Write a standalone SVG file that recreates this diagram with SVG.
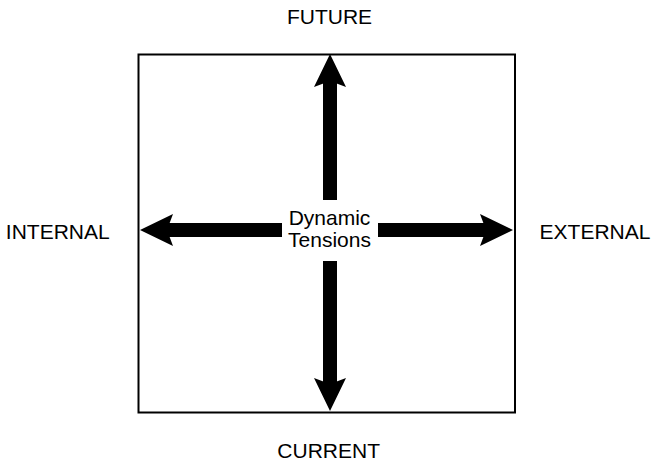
<svg xmlns="http://www.w3.org/2000/svg" width="653" height="462" viewBox="0 0 653 462">
  <style>
    .lbl { font-family: "Liberation Sans", Arial, sans-serif; font-size: 21px; fill: #000; text-anchor: middle; }
    .frame { fill: none; stroke: #000; stroke-width: 2; }
    .shaft { stroke: #000; stroke-width: 14; fill: none; marker-end: url(#head); }
  </style>
  <defs>
    <marker id="head" markerUnits="userSpaceOnUse" orient="auto" refX="7" refY="0" markerWidth="40" markerHeight="40" overflow="visible">
      <path d="M0,-16 L33,0 L0,16 L6,0 Z" fill="#000"/>
    </marker>
  </defs>

  <g id="frame">
    <rect class="frame" x="138.5" y="54.5" width="376.5" height="358"/>
  </g>

  <g id="connectors">
    <line class="shaft" x1="330" y1="200" x2="330" y2="80"/>
    <line class="shaft" x1="330" y1="261" x2="330" y2="385"/>
    <line class="shaft" x1="282" y1="230" x2="166" y2="230"/>
    <line class="shaft" x1="378" y1="230" x2="487" y2="230"/>
  </g>

  <g id="center">
    <text class="lbl" x="329.5" y="225">Dynamic</text>
    <text class="lbl" x="329.5" y="247">Tensions</text>
  </g>
  <g id="future"><text class="lbl" x="329.5" y="24">FUTURE</text></g>
  <g id="current"><text class="lbl" x="328.7" y="458">CURRENT</text></g>
  <g id="internal"><text class="lbl" x="57.8" y="239">INTERNAL</text></g>
  <g id="external"><text class="lbl" x="595" y="239">EXTERNAL</text></g>
</svg>
